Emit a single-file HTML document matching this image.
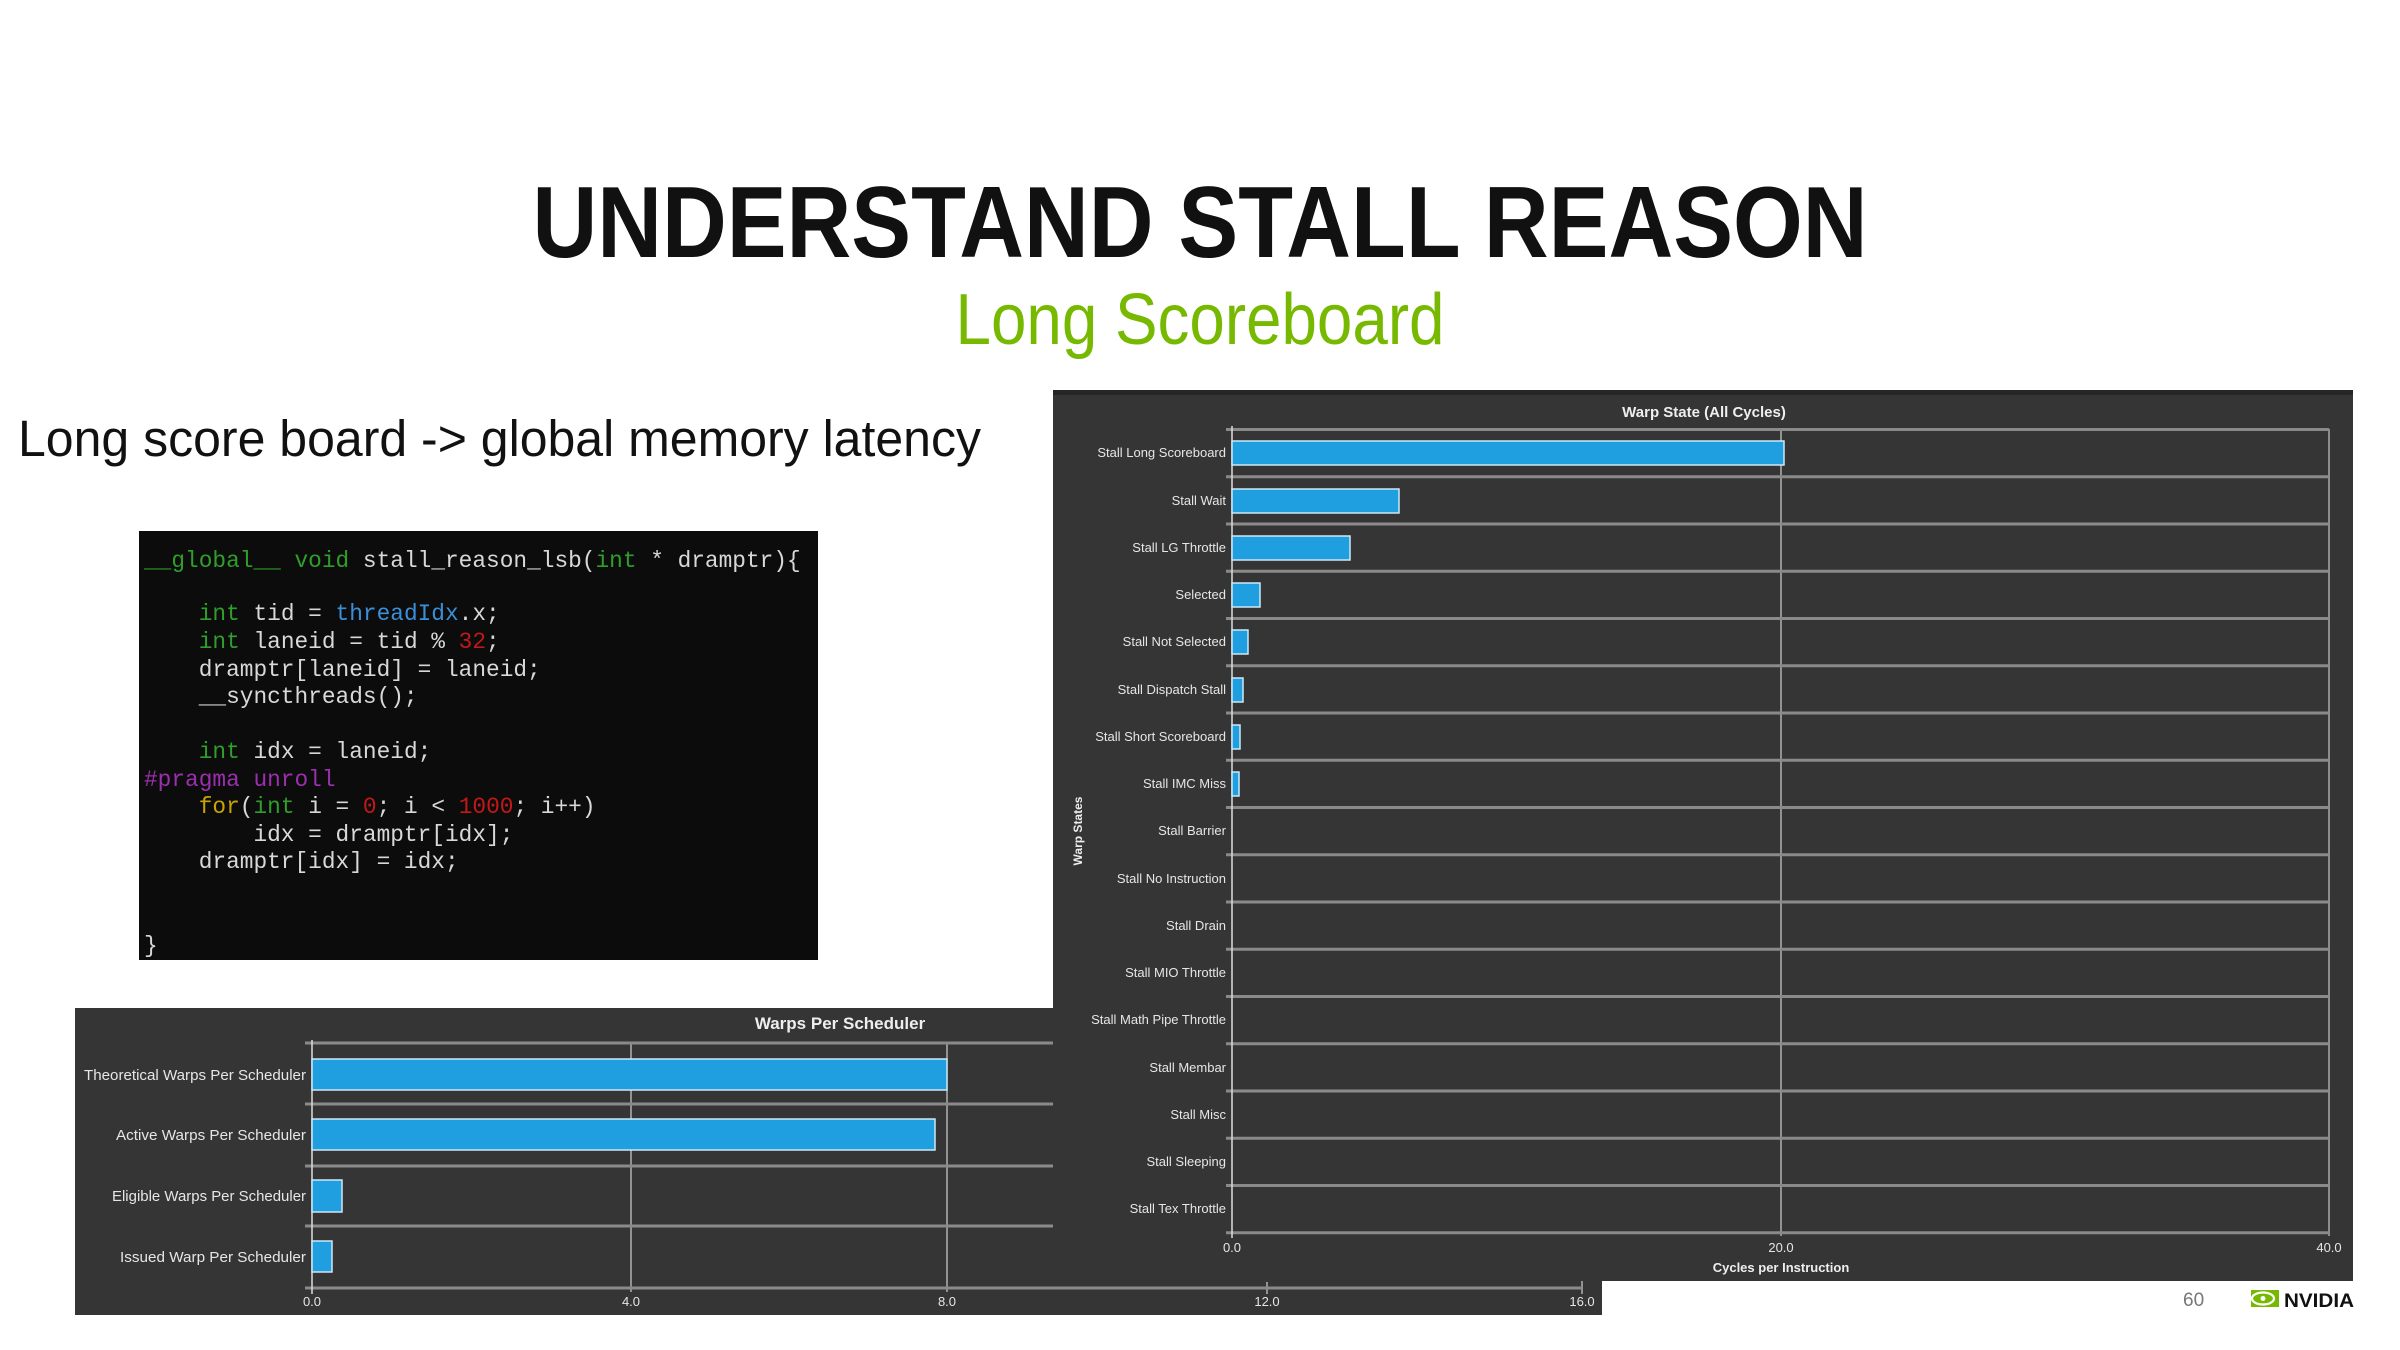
<!DOCTYPE html>
<html><head><meta charset="utf-8"><style>
html,body{margin:0;padding:0;background:#fff;}
svg{display:block;}
text{font-family:"Liberation Sans",sans-serif;}
.code text{font-family:"Liberation Mono",monospace;font-size:22.8px;white-space:pre;}
.lbl{font-size:13px;fill:#e6e6e6;text-anchor:end;}
.lb2{font-size:15px;fill:#e6e6e6;text-anchor:end;}
.tk{font-size:13px;fill:#e6e6e6;text-anchor:middle;}
</style></head><body>
<svg width="2400" height="1350" viewBox="0 0 2400 1350" xmlns="http://www.w3.org/2000/svg">
<rect width="2400" height="1350" fill="#fff"/>
<text x="1200" y="257" font-size="101" font-weight="bold" text-anchor="middle" textLength="1335" lengthAdjust="spacingAndGlyphs" fill="#111">UNDERSTAND STALL REASON</text>
<text x="1200" y="344" font-size="72" text-anchor="middle" textLength="489" lengthAdjust="spacingAndGlyphs" fill="#76b900">Long Scoreboard</text>
<text x="18" y="456" font-size="51" textLength="963" lengthAdjust="spacingAndGlyphs" fill="#111">Long score board -&gt; global memory latency</text>

<!-- code -->
<rect x="139" y="531" width="679" height="429" fill="#0c0c0c"/>
<g class="code" fill="#d8d8d8">
<text x="144" y="567"><tspan fill="#2f9e2a">__global__</tspan> <tspan fill="#2f9e2a">void</tspan> stall_reason_lsb(<tspan fill="#2f9e2a">int</tspan> * dramptr){</text>
<text x="144" y="620">    <tspan fill="#2f9e2a">int</tspan> tid = <tspan fill="#3b8fd8">threadIdx</tspan>.x;</text>
<text x="144" y="648">    <tspan fill="#2f9e2a">int</tspan> laneid = tid % <tspan fill="#c41818">32</tspan>;</text>
<text x="144" y="676">    dramptr[laneid] = laneid;</text>
<text x="144" y="703">    __syncthreads();</text>
<text x="144" y="758">    <tspan fill="#2f9e2a">int</tspan> idx = laneid;</text>
<text x="144" y="786" fill="#9b2fae">#pragma unroll</text>
<text x="144" y="813">    <tspan fill="#c8a400">for</tspan>(<tspan fill="#2f9e2a">int</tspan> i = <tspan fill="#c41818">0</tspan>; i &lt; <tspan fill="#c41818">1000</tspan>; i++)</text>
<text x="144" y="841">        idx = dramptr[idx];</text>
<text x="144" y="868">    dramptr[idx] = idx;</text>
<text x="144" y="952">}</text>
</g>

<!-- bottom chart -->
<rect x="75" y="1008" width="1527" height="307" fill="#353535"/>
<text x="840" y="1029" font-size="17" font-weight="bold" fill="#eee" text-anchor="middle">Warps Per Scheduler</text>
<g stroke="#d0d0d0" stroke-width="1.2">
<line x1="631" y1="1043" x2="631" y2="1292"/><line x1="947" y1="1043" x2="947" y2="1292"/>
<line x1="1267" y1="1282" x2="1267" y2="1294"/><line x1="1582" y1="1280" x2="1582" y2="1294"/>
</g>
<g stroke="#8a8a8a" stroke-width="3">
<line x1="305" y1="1043" x2="1064" y2="1043"/><line x1="305" y1="1104" x2="1064" y2="1104"/>
<line x1="305" y1="1166" x2="1064" y2="1166"/><line x1="305" y1="1226" x2="1064" y2="1226"/>
<line x1="305" y1="1288" x2="1582" y2="1288"/>
</g>
<line x1="312" y1="1040" x2="312" y2="1294" stroke="#ddd" stroke-width="1.5"/>
<g fill="#1f9fdf" stroke="#cfe8f5" stroke-width="1.5">
<rect x="312" y="1059" width="635" height="31"/>
<rect x="312" y="1119" width="623" height="31"/>
<rect x="312" y="1180" width="30" height="32"/>
<rect x="312" y="1241" width="20" height="31"/>
</g>
<text class="lb2" x="306" y="1080" textLength="222" lengthAdjust="spacingAndGlyphs">Theoretical Warps Per Scheduler</text>
<text class="lb2" x="306" y="1140" textLength="190" lengthAdjust="spacingAndGlyphs">Active Warps Per Scheduler</text>
<text class="lb2" x="306" y="1201" textLength="194" lengthAdjust="spacingAndGlyphs">Eligible Warps Per Scheduler</text>
<text class="lb2" x="306" y="1262" textLength="186" lengthAdjust="spacingAndGlyphs">Issued Warp Per Scheduler</text>
<text class="tk" x="312" y="1306">0.0</text><text class="tk" x="631" y="1306">4.0</text>
<text class="tk" x="947" y="1306">8.0</text><text class="tk" x="1267" y="1306">12.0</text>
<text class="tk" x="1582" y="1306">16.0</text>

<!-- right chart -->
<rect x="1053" y="390" width="1300" height="891" fill="#353535"/>
<rect x="1053" y="390" width="1300" height="5" fill="#262626"/>
<text x="1704" y="417" font-size="15" font-weight="bold" fill="#eee" text-anchor="middle">Warp State (All Cycles)</text>
<line x1="1781" y1="429" x2="1781" y2="1236" stroke="#d0d0d0" stroke-width="1.2"/>
<line x1="2329" y1="429" x2="2329" y2="1236" stroke="#aaa" stroke-width="1.5"/>
<g stroke="#8a8a8a" stroke-width="3">
<line x1="1226" y1="429.5" x2="2329" y2="429.5"/><line x1="1226" y1="476.7" x2="2329" y2="476.7"/>
<line x1="1226" y1="524" x2="2329" y2="524"/><line x1="1226" y1="571.2" x2="2329" y2="571.2"/>
<line x1="1226" y1="618.5" x2="2329" y2="618.5"/><line x1="1226" y1="665.7" x2="2329" y2="665.7"/>
<line x1="1226" y1="713" x2="2329" y2="713"/><line x1="1226" y1="760.2" x2="2329" y2="760.2"/>
<line x1="1226" y1="807.5" x2="2329" y2="807.5"/><line x1="1226" y1="854.7" x2="2329" y2="854.7"/>
<line x1="1226" y1="902" x2="2329" y2="902"/><line x1="1226" y1="949.2" x2="2329" y2="949.2"/>
<line x1="1226" y1="996.5" x2="2329" y2="996.5"/><line x1="1226" y1="1043.7" x2="2329" y2="1043.7"/>
<line x1="1226" y1="1091" x2="2329" y2="1091"/><line x1="1226" y1="1138.2" x2="2329" y2="1138.2"/>
<line x1="1226" y1="1185.5" x2="2329" y2="1185.5"/><line x1="1226" y1="1232.7" x2="2329" y2="1232.7"/>
</g>
<line x1="1232" y1="426" x2="1232" y2="1238" stroke="#ddd" stroke-width="1.5"/>
<g fill="#1f9fdf" stroke="#cfe8f5" stroke-width="1.5">
<rect x="1232" y="441" width="552" height="24"/>
<rect x="1232" y="489" width="167" height="24"/>
<rect x="1232" y="536" width="118" height="24"/>
<rect x="1232" y="583" width="28" height="24"/>
<rect x="1232" y="630" width="16" height="24"/>
<rect x="1232" y="678" width="11" height="24"/>
<rect x="1232" y="725" width="8" height="24"/>
<rect x="1232" y="772" width="7" height="24"/>
</g>
<text class="lbl" x="1226" y="457">Stall Long Scoreboard</text>
<text class="lbl" x="1226" y="505">Stall Wait</text>
<text class="lbl" x="1226" y="552">Stall LG Throttle</text>
<text class="lbl" x="1226" y="599">Selected</text>
<text class="lbl" x="1226" y="646">Stall Not Selected</text>
<text class="lbl" x="1226" y="694">Stall Dispatch Stall</text>
<text class="lbl" x="1226" y="741">Stall Short Scoreboard</text>
<text class="lbl" x="1226" y="788">Stall IMC Miss</text>
<text class="lbl" x="1226" y="835">Stall Barrier</text>
<text class="lbl" x="1226" y="883">Stall No Instruction</text>
<text class="lbl" x="1226" y="930">Stall Drain</text>
<text class="lbl" x="1226" y="977">Stall MIO Throttle</text>
<text class="lbl" x="1226" y="1024">Stall Math Pipe Throttle</text>
<text class="lbl" x="1226" y="1072">Stall Membar</text>
<text class="lbl" x="1226" y="1119">Stall Misc</text>
<text class="lbl" x="1226" y="1166">Stall Sleeping</text>
<text class="lbl" x="1226" y="1213">Stall Tex Throttle</text>
<text class="tk" x="1232" y="1252">0.0</text><text class="tk" x="1781" y="1252">20.0</text>
<text class="tk" x="2329" y="1252">40.0</text>
<text x="1781" y="1272" font-size="13" font-weight="bold" fill="#eee" text-anchor="middle">Cycles per Instruction</text>
<text transform="translate(1082,831) rotate(-90)" font-size="12" font-weight="bold" fill="#eee" text-anchor="middle">Warp States</text>

<!-- footer -->
<text x="2183" y="1306" font-size="19" fill="#777">60</text>
<g transform="translate(2251,1290)">
<rect x="0" y="0" width="28" height="17" fill="#76b900"/>
<ellipse cx="12" cy="8.5" rx="11" ry="6" fill="none" stroke="#fff" stroke-width="2.2"/>
<circle cx="12" cy="8.5" r="2.5" fill="#fff"/>
</g>
<text x="2284" y="1307" font-size="19" font-weight="bold" fill="#111" textLength="70" lengthAdjust="spacingAndGlyphs">NVIDIA</text>
</svg>
</body></html>
